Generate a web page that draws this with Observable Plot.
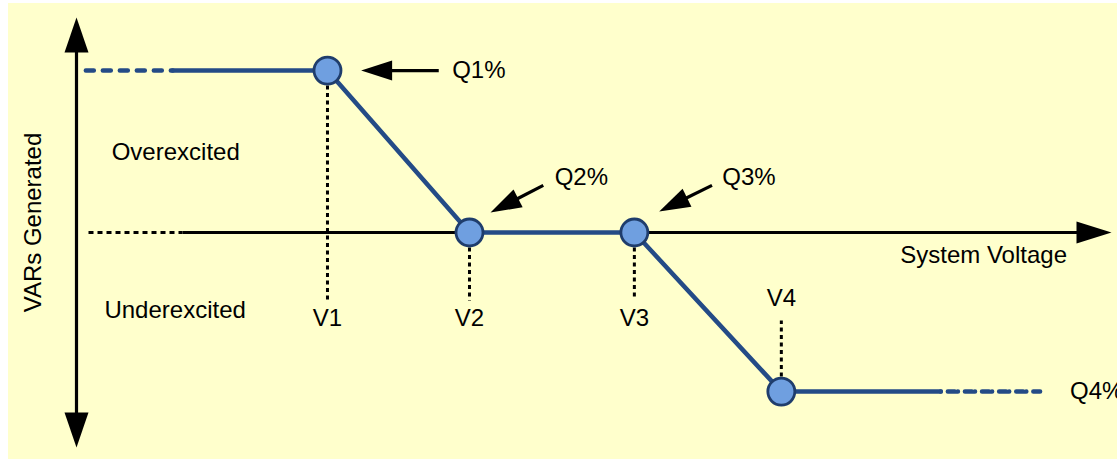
<!DOCTYPE html>
<html>
<head>
<meta charset="utf-8">
<script src="https://cdn.jsdelivr.net/npm/d3@7"></script>
<script src="https://cdn.jsdelivr.net/npm/@observablehq/plot@0.6"></script>
<style>
  html, body { margin: 0; padding: 0; background: #ffffff; }
  #wrap { padding: 3px 0 0 8px; }
</style>
</head>
<body>
<div id="wrap"></div>
<script>
// ---- data (chart units: voltage 0..100, VARs -100..100) ----
const pointLabels = ["V1", "V2", "V3", "V4"];
const voltage = [24.25, 37.97, 53.9, 68.1];
const qLabels = ["Q1%", "Q2%", "Q3%", "Q4%"];
const qValue = [75.3, 0, 0, -74];
const leftExtension = [0.9, 9.3];     // dashed start, solid start
const rightExtension = [83.5, 93.1];  // solid end, dashed end
const axisDotted = [1.16, 10.24];
const guideEnd = [-31.6, -31.6, -31, -40.9];
const vLabelY = [-40, -40, -40, -30.7];
const qLabelX = [36.3, 46.2, 62.4, 96.0];
const qLabelY = [75.3, 25.6, 25.6, -74];
const arrowFromX = [35.0, 45.1, 61.4];
const arrowFromY = [75.3, 21.9, 21.9];
const arrowToX = [27.5, 40.0, 56.3];
const arrowToY = [75.3, 9.3, 9.8];
const regionLabels = ["Overexcited", "Underexcited"];
const regionX = [3.4, 2.7];
const regionY = [37.2, -36.3];
const xAxisLabel = "System Voltage";
const yAxisLabel = "VARs Generated";

// ---- layout ----
const W = 1109, H = 456;
const xRange = [68, 1103], yRange = [444, 14];
const xDomain = [0, 100], yDomain = [-100, 100];
const kx = (xRange[1] - xRange[0]) / (xDomain[1] - xDomain[0]);
const ky = (yRange[0] - yRange[1]) / (yDomain[1] - yDomain[0]);

const BLUE = "#244b86";
const FONT = "'Liberation Sans', Arial, Helvetica, sans-serif";
const FS = 24;

function headSymbol(L, Wd) {
  return {
    draw(ctx) {
      ctx.moveTo(0, 0);
      ctx.lineTo(Wd / 2, L);
      ctx.lineTo(-Wd / 2, L);
      ctx.closePath();
    }
  };
}
const smallHead = headSymbol(31, 20);
const axisHeadY = headSymbol(35, 24);
const axisHeadX = headSymbol(35, 22);

// annotation arrows
const arrows = arrowFromX.map((x1, i) => {
  const x2 = arrowToX[i], y1 = arrowFromY[i], y2 = arrowToY[i];
  const dxp = (x2 - x1) * kx, dyp = -(y2 - y1) * ky;
  const n = Math.hypot(dxp, dyp);
  const back = 28;
  return {
    x1, y1, x2, y2,
    sx: x2 - (dxp / n) * back / kx,
    sy: y2 + (dyp / n) * back / ky,
    rot: Math.atan2(dxp, -dyp) * 180 / Math.PI
  };
});

const points = voltage.map((v, i) => ({v, q: qValue[i], label: pointLabels[i], guideEnd: guideEnd[i], ly: vLabelY[i]}));
const solidPath = [
  {v: leftExtension[1], q: qValue[0]},
  ...points,
  {v: rightExtension[0], q: qValue[3]}
];

const plot = Plot.plot({
  width: W,
  height: H,
  marginLeft: xRange[0],
  marginRight: W - xRange[1],
  marginTop: yRange[1],
  marginBottom: H - yRange[0],
  x: {domain: xDomain, axis: null},
  y: {domain: yDomain, axis: null},
  style: {background: "#ffffcc", fontFamily: FONT, overflow: "visible"},
  marks: [
    // vertical dotted guides
    Plot.link(points, {x1: "v", x2: "v", y1: "q", y2: "guideEnd", stroke: "black", strokeWidth: 3, strokeDasharray: "4,3.5"}),
    // x axis
    Plot.link([0], {x1: axisDotted[0], x2: axisDotted[1], y1: 0, y2: 0, stroke: "black", strokeWidth: 2.8, strokeDasharray: "5,4"}),
    Plot.link([0], {x1: axisDotted[1], x2: xDomain[1] - 30 / kx, y1: 0, y2: 0, stroke: "black", strokeWidth: 3}),
    Plot.dot([0], {x: xDomain[1], y: 0, symbol: axisHeadX, rotate: 90, fill: "black", stroke: "none"}),
    // y axis
    Plot.link([0], {x1: 0, x2: 0, y1: yDomain[0] + 30 / ky, y2: yDomain[1] - 30 / ky, stroke: "black", strokeWidth: 3.2}),
    Plot.dot([0], {x: 0, y: yDomain[1], symbol: axisHeadY, rotate: 0, fill: "black", stroke: "none"}),
    Plot.dot([0], {x: 0, y: yDomain[0], symbol: axisHeadY, rotate: 180, fill: "black", stroke: "none"}),
    // dashed extensions
    Plot.line([{v: leftExtension[0], q: qValue[0]}, {v: leftExtension[1], q: qValue[0]}], {x: "v", y: "q", stroke: BLUE, strokeWidth: 4.5, strokeDasharray: "8,9", strokeLinecap: "round"}),
    Plot.line([{v: rightExtension[0], q: qValue[3]}, {v: rightExtension[1], q: qValue[3]}], {x: "v", y: "q", stroke: BLUE, strokeWidth: 4.5, strokeDasharray: "0.1,7,7,3", strokeLinecap: "round"}),
    // solid characteristic
    Plot.line(solidPath, {x: "v", y: "q", stroke: BLUE, strokeWidth: 4.5, strokeLinejoin: "round"}),
    Plot.dot(points, {x: "v", y: "q", r: 13.5, fill: "#6f9fe0", stroke: "#1f3d6c", strokeWidth: 2.8}),
    // annotation arrows
    Plot.link(arrows, {x1: "x1", y1: "y1", x2: "sx", y2: "sy", stroke: "black", strokeWidth: 3.2}),
    Plot.dot(arrows, {x: "x2", y: "y2", symbol: smallHead, rotate: "rot", fill: "black", stroke: "none"}),
    // labels
    Plot.text(points, {x: "v", y: "ly", text: "label", fontSize: FS, fill: "black", textAnchor: "middle"}),
    Plot.text(qLabels, {x: (d, i) => qLabelX[i], y: (d, i) => qLabelY[i], text: d => d, fontSize: FS, fill: "black", textAnchor: "start"}),
    Plot.text(regionLabels, {x: (d, i) => regionX[i], y: (d, i) => regionY[i], text: d => d, fontSize: FS, fill: "black", textAnchor: "start"}),
    Plot.text([xAxisLabel], {x: 95.7, y: -10.7, text: d => d, fontSize: FS, fill: "black", textAnchor: "end"}),
    Plot.text([yAxisLabel], {x: -4.15, y: 4.65, text: d => d, fontSize: FS, fill: "black", textAnchor: "middle", rotate: -90})
  ]
});
document.getElementById("wrap").appendChild(plot);
</script>
</body>
</html>
